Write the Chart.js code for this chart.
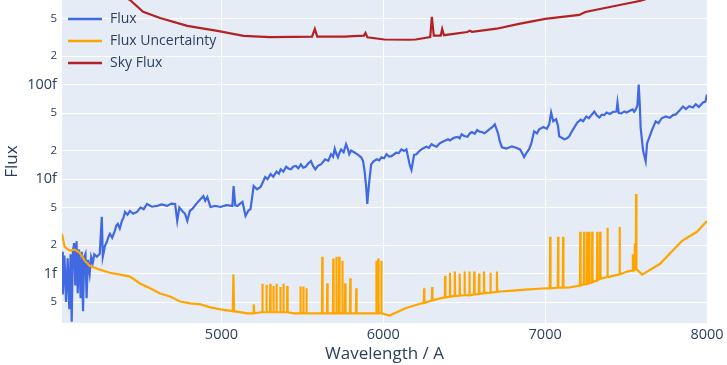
<!DOCTYPE html>
<html>
<head>
<meta charset="utf-8">
<script src="https://cdn.jsdelivr.net/npm/chart.js@4.4.1/dist/chart.umd.min.js"></script>
<style>
html,body{margin:0;padding:0;background:#fff;}
#wrap{width:727px;height:365px;position:relative;}
</style>
</head>
<body>
<div id="wrap"><canvas id="c" width="727" height="365"></canvas></div>
<script>
// ---- DATA (flux values in units of 1e-15, shown as "f") ----
const seriesNames = ["Flux", "Flux Uncertainty", "Sky Flux"];
const xTickValues = [5000, 6000, 7000, 8000];
const yTickValues = [0.5, 1, 2, 5, 10, 20, 50, 100, 200, 500];
const yTickLabels = ["5", "1f", "2", "5", "10f", "2", "5", "100f", "2", "5"];

const fluxWave = [4015,4020,4030,4040,4050,4060,4068,4075,4082,4090,4097,4105,4112,4120,4130,4137,4145,4152,4160,4167,4175,4186,4195,4205,4215,4230,4248,4261,4267,4280,4292,4302,4311,4325,4342,4350,4360,4372,4385,4395,4404,4420,4435,4455,4478,4500,4520,4540,4570,4603,4630,4665,4690,4714,4727,4740,4758,4775,4789,4805,4820,4850,4870,4888,4900,4913,4932,4960,4994,5030,5068,5075,5085,5099,5115,5130,5149,5165,5180,5199,5220,5242,5255,5270,5285,5304,5320,5340,5355,5366,5383,5400,5415,5429,5445,5460,5475,5491,5505,5520,5536,5553,5566,5580,5598,5615,5628,5640,5660,5677,5690,5700,5710,5720,5730,5739,5755,5770,5780,5790,5801,5820,5840,5852,5863,5875,5885,5895,5901,5912,5925,5940,5960,5975,5988,6005,6020,6035,6050,6065,6080,6095,6112,6128,6143,6152,6160,6167,6174,6190,6205,6220,6236,6250,6267,6282,6298,6315,6330,6345,6360,6380,6400,6412,6422,6440,6460,6472,6484,6500,6520,6535,6547,6565,6580,6595,6609,6625,6640,6655,6671,6689,6700,6710,6720,6733,6760,6795,6820,6845,6860,6870,6885,6900,6915,6932,6950,6963,6990,7010,7025,7037,7050,7068,7080,7087,7100,7118,7135,7149,7170,7199,7220,7235,7254,7270,7290,7304,7320,7335,7350,7365,7379,7400,7420,7441,7447,7455,7470,7490,7503,7520,7540,7550,7560,7570,7578,7585,7590,7605,7621,7630,7646,7660,7683,7700,7720,7745,7770,7790,7807,7830,7851,7870,7890,7913,7930,7950,7975,7990,8000];
const fluxVals = [1.70,0.60,1.55,0.50,1.45,0.42,1.60,0.31,1.70,2.10,0.75,2.20,0.62,1.80,0.55,1.70,0.40,1.50,1.62,0.55,1.40,1.00,1.50,1.30,1.60,1.51,1.62,3.98,1.51,1.95,2.17,2.45,2.64,2.40,2.84,3.20,3.36,3.00,3.61,3.90,4.49,4.20,4.60,4.30,4.49,5.00,4.80,5.45,5.10,5.20,5.40,5.20,5.50,5.45,3.61,5.00,4.60,4.30,3.61,4.60,4.83,5.60,6.10,6.62,5.90,6.46,5.07,5.20,5.07,5.30,5.20,8.44,5.30,5.20,5.50,5.73,4.08,4.60,4.83,8.44,7.80,8.25,9.20,10.5,10.0,11.3,10.6,12.0,11.4,12.7,12.0,13.5,12.9,12.7,13.6,13.8,13.0,14.3,13.2,13.5,14.6,15.5,13.8,12.7,13.9,14.3,15.2,16.2,15.6,18.3,17.2,21.0,18.5,17.0,19.0,20.6,19.2,23.4,21.0,18.3,20.0,19.2,18.3,17.6,17.0,15.5,12.0,8.0,5.45,9.0,14.3,15.4,16.2,15.8,17.0,16.6,18.3,17.3,17.5,18.2,19.0,18.8,20.6,19.8,20.6,17.5,15.0,13.5,12.5,18.0,18.3,19.6,20.6,21.3,22.0,21.4,23.4,22.5,22.0,23.6,24.5,25.4,26.4,25.6,26.4,27.5,28.0,27.0,29.8,28.6,28.0,30.5,31.5,30.2,33.0,31.8,31.5,30.5,32.0,33.5,35.2,37.9,33.5,30.0,25.0,21.7,21.0,22.2,21.5,20.6,18.5,17.1,19.0,20.6,24.0,32.0,30.5,33.6,35.5,34.0,37.9,50.6,41.0,42.9,36.0,28.3,27.5,26.4,27.0,28.3,33.0,39.8,42.5,41.0,46.0,44.0,48.5,51.8,47.0,44.9,48.0,47.5,50.6,48.8,51.5,51.8,64.6,50.0,49.5,52.0,50.6,52.5,54.5,51.5,54.5,60.0,100,60.0,35.0,20.0,15.5,24.0,28.3,33.0,40.8,39.0,44.0,46.0,44.5,47.5,48.3,53.0,58.6,55.0,59.0,57.2,62.0,58.0,64.6,66.0,78.5];

const uncWave = [4015,4031,4062,4093,4124,4155,4186,4248,4311,4373,4435,4497,4559,4621,4683,4745,4807,4870,4932,4994,5070,5074,5078,5161,5196,5199,5203,5245,
5251,5253,5255,5276,5278,5280,5300,5302,5304,5319,5321,5323,5338,5340,5342,5362,5364,5366,5381,5383,5385,5405,5407,5409,5450,
5486,5488,5490,5504,5506,5508,5523,5525,5527,5580,5621,5623,5625,5652,5654,5656,5689,5691,5693,5708,5710,5712,5726,5728,5730,5745,5747,5749,5763,5765,5767,5794,5796,5798,5831,5833,5835,5900,
5955,5957,5959,5967,5969,5971,5986,5988,5990,6040,6136,6228,6250,6252,6254,6300,6302,6304,6352,
6380,6382,6384,6410,6412,6414,6440,6442,6444,6470,6472,6474,6500,6502,6504,6530,6532,6534,6560,6562,6564,6590,6592,6594,6620,6622,6624,6660,6662,6664,6700,6702,6704,6722,6800,6900,6988,
7029,7031,7033,7078,7080,7082,7109,7111,7113,7149,7205,
7215,7217,7219,7239,7241,7243,7258,7260,7262,7270,7272,7274,7289,7291,7293,7320,7322,7324,7338,7340,7342,
7383,7385,7387,7401,7458,7460,7462,7506,7540,7542,7544,7551,7553,7555,7560,7562,7564,7599,7710,7846,7938,8000];
const uncVals = [2.64,1.92,1.75,1.79,1.66,1.37,1.21,1.10,1.02,0.976,0.93,0.785,0.70,0.616,0.573,0.507,0.484,0.472,0.439,0.418,0.40,0.976,0.40,0.379,0.38,0.472,0.38,0.39,
0.39,0.78,0.39,0.39,0.76,0.39,0.39,0.78,0.39,0.39,0.74,0.39,0.39,0.78,0.39,0.39,0.72,0.39,0.39,0.78,0.39,0.39,0.74,0.39,0.38,
0.38,0.73,0.38,0.38,0.73,0.38,0.38,0.70,0.38,0.38,0.38,1.51,0.38,0.38,0.79,0.38,0.38,1.44,0.38,0.38,1.51,0.38,0.38,1.51,0.38,0.38,1.37,0.38,0.38,0.79,0.38,0.38,0.89,0.38,0.38,0.70,0.38,0.38,
0.38,1.37,0.38,0.38,1.44,0.38,0.38,1.37,0.38,0.36,0.43,0.48,0.49,0.70,0.49,0.52,0.72,0.52,0.546,
0.56,0.95,0.56,0.57,1.02,0.57,0.58,1.05,0.58,0.585,1.00,0.585,0.59,1.05,0.59,0.59,1.05,0.59,0.60,1.05,0.60,0.61,1.00,0.61,0.62,1.05,0.62,0.63,1.02,0.63,0.64,1.05,0.64,0.646,0.66,0.68,0.695,
0.70,2.45,0.70,0.71,2.45,0.71,0.71,2.45,0.71,0.712,0.74,
0.75,2.77,0.75,0.77,2.77,0.77,0.78,2.77,0.78,0.79,2.77,0.79,0.81,2.77,0.81,0.85,2.77,0.85,0.88,2.77,0.88,
0.92,3.05,0.92,0.93,0.98,3.12,0.98,1.05,1.08,1.60,1.08,1.10,2.07,1.10,1.12,6.95,1.12,0.976,1.27,2.22,2.77,3.61];

const skyWave = [4015,4150,4300,4435,4516,4621,4789,4975,5137,5300,5450,5560,5577,5592,5758,5880,5890,5902,6006,6155,6200,6290,6300,6312,6355,6364,6375,6520,6534,6548,6700,6838,7000,7211,7248,7460,7584,7700,8000];
const skyVals = [2500,1600,1050,785,590,507,418,370,328,318,320,322,388,322,322,330,352,316,300,298,300,318,520,330,330,388,333,360,372,362,390,439,495,546,587,695,766,880,1100];

// ---- CHART ----
const waves = [fluxWave, uncWave, skyWave];
const vals = [fluxVals, uncVals, skyVals];
const colors = ["#4169E1", "#FFA500", "#B22222"];
const orders = [3, 2, 1];
const majorTicks = new Set([1, 10, 100]);

const bgPlugin = {
  id: 'plotBg',
  beforeDraw(chart) {
    const {ctx, chartArea: a} = chart;
    ctx.save();
    ctx.fillStyle = '#E5ECF6';
    ctx.fillRect(a.left, a.top, a.right - a.left, a.bottom - a.top);
    ctx.restore();
  }
};

const legendPlugin = {
  id: 'plotLegend',
  afterDraw(chart) {
    const {ctx, chartArea: a} = chart;
    ctx.save();
    ctx.font = '14px "Open Sans"';
    ctx.textBaseline = 'middle';
    const rows = [19, 41, 63];
    chart.data.datasets.forEach((ds, i) => {
      const y = rows[i];
      ctx.strokeStyle = ds.borderColor;
      ctx.lineWidth = 2.4;
      ctx.beginPath();
      ctx.moveTo(a.left + 6, y);
      ctx.lineTo(a.left + 40, y);
      ctx.stroke();
      ctx.fillStyle = '#2a3f5f';
      ctx.fillText(ds.label, a.left + 48, y);
    });
    ctx.restore();
  }
};

new Chart(document.getElementById('c'), {
  type: 'line',
  data: {
    datasets: seriesNames.map((name, i) => ({
      label: name,
      data: waves[i].map((w, k) => ({x: w, y: vals[i][k]})),
      borderColor: colors[i],
      backgroundColor: colors[i],
      borderWidth: 2.2,
      pointRadius: 0,
      tension: 0,
      order: orders[i],
      fill: false
    }))
  },
  options: {
    responsive: false,
    animation: false,
    devicePixelRatio: 1,
    layout: {padding: {left: 0, right: 20, top: 0, bottom: 0}},
    plugins: {legend: {display: false}, tooltip: {enabled: false}},
    scales: {
      x: {
        type: 'linear',
        min: 4015, max: 8000,
        afterBuildTicks: (s) => { s.ticks = xTickValues.map(v => ({value: v})); },
        afterFit: (s) => { s.height = 42; },
        grid: {color: '#ffffff', lineWidth: 1, drawTicks: false},
        border: {display: false},
        ticks: {padding: 3, color: '#2a3f5f', font: {family: 'Open Sans', size: 14.5}, maxRotation: 0, callback: v => String(v)},
        title: {display: true, text: 'Wavelength / A', color: '#2a3f5f', font: {family: 'Open Sans', size: 17}, padding: {top: 0, bottom: 1}}
      },
      y: {
        type: 'logarithmic',
        min: 0.3126, max: 785,
        afterBuildTicks: (s) => { s.ticks = yTickValues.map(v => ({value: v})); },
        afterFit: (s) => { s.width = 62; s.paddingTop = 0; s.paddingBottom = 0; },
        grid: {color: '#ffffff', lineWidth: 1, drawTicks: false},
        border: {display: false},
        ticks: {
          padding: 5, color: '#2a3f5f',
          font: (c) => ({family: 'Open Sans', size: (c.tick && majorTicks.has(c.tick.value)) ? 14.5 : 11.5}),
          callback: (v) => { const k = yTickValues.indexOf(v); return k >= 0 ? yTickLabels[k] : ''; }
        },
        title: {display: true, text: 'Flux', color: '#2a3f5f', font: {family: 'Open Sans', size: 17}, padding: {top: 2, bottom: 0}}
      }
    }
  },
  plugins: [bgPlugin, legendPlugin]
});
</script>
</body>
</html>
